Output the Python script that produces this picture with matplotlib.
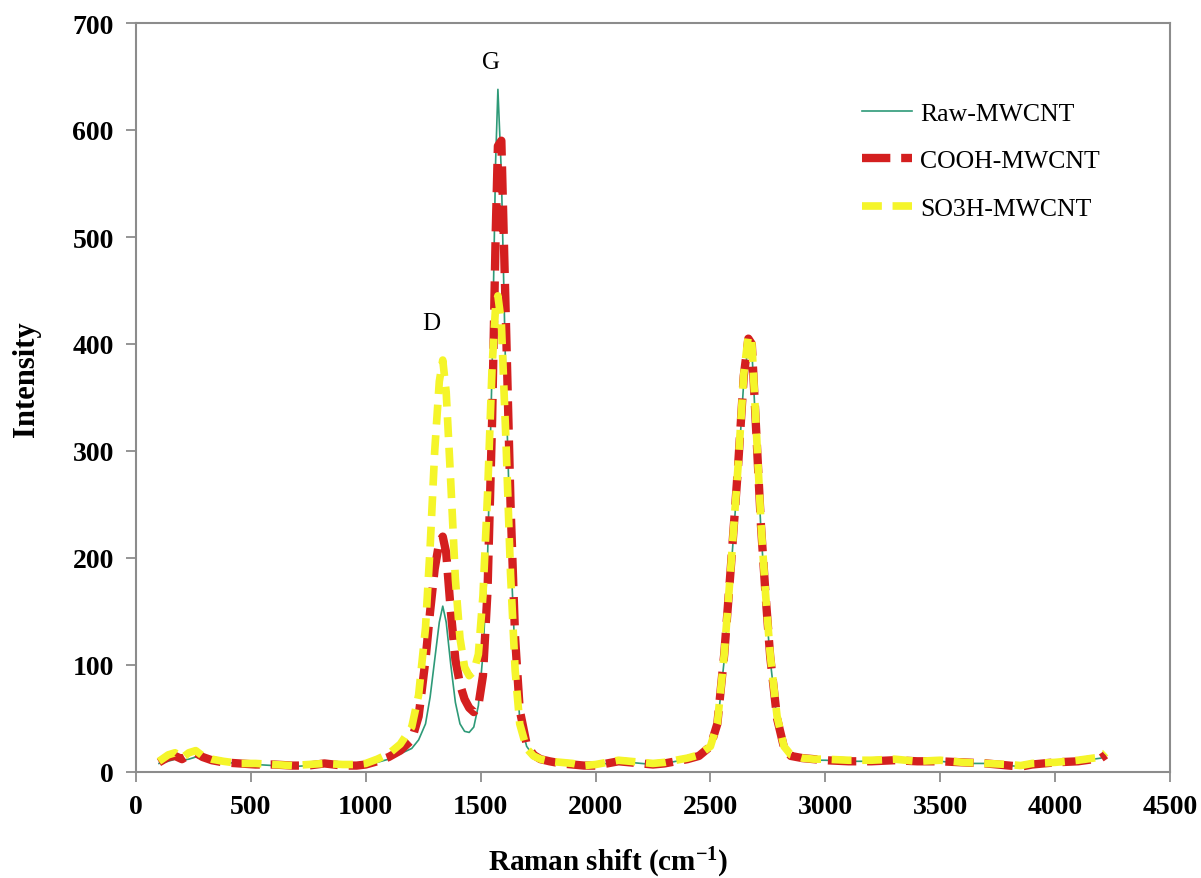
import matplotlib
matplotlib.use("Agg")
import matplotlib.pyplot as plt

# ---- data ----
x_raw = [100, 140, 170, 200, 230, 260, 290, 330, 380, 450, 520, 600, 680, 750, 820, 900, 960, 1000,
         1050, 1100, 1150, 1200, 1230, 1260, 1280, 1300, 1320, 1335, 1350, 1370, 1390, 1410, 1430,
         1450, 1470, 1490, 1510, 1530, 1550, 1565, 1575, 1590, 1610, 1630, 1650, 1670, 1700, 1730,
         1760, 1800, 1850, 1900, 1950, 2000, 2050, 2100, 2150, 2200, 2250, 2300, 2350, 2400, 2450,
         2500, 2530, 2560, 2590, 2620, 2645, 2665, 2680, 2700, 2720, 2740, 2760, 2790, 2820, 2850,
         2900, 2950, 3000, 3100, 3200, 3300, 3400, 3500, 3600, 3700, 3800, 3850, 3900, 4000, 4100,
         4200, 4220]
y_raw = [8, 10, 12, 11, 12, 14, 12, 10, 9, 8, 7, 6, 5, 6, 7, 6, 6, 7,
         9, 12, 17, 22, 30, 45, 70, 105, 140, 155, 140, 100, 65, 45, 38,
         37, 42, 62, 110, 200, 380, 570, 638, 560, 360, 210, 105, 50, 24, 15,
         11, 9, 8, 7, 6, 6, 8, 10, 9, 8, 7, 8, 10, 12, 15,
         22, 42, 105, 190, 280, 365, 400, 395, 310, 225, 160, 105, 48, 22, 15,
         12, 11, 11, 10, 10, 11, 9, 10, 8, 8, 6, 5, 7, 8, 10,
         13, 16]

x_cooh = x_raw
y_cooh = [9, 14, 15, 12, 16, 18, 14, 11, 9, 8, 7, 7, 6, 6, 8, 6, 6, 7,
          10, 14, 20, 30, 52, 105, 150, 190, 215, 220, 205, 150, 105, 82, 68,
          60, 56, 62, 90, 170, 330, 500, 585, 590, 420, 250, 125, 58, 26, 16,
          12, 10, 8, 7, 6, 6, 8, 10, 9, 8, 7, 8, 10, 12, 15,
          24, 45, 110, 195, 285, 370, 405, 400, 315, 230, 165, 108, 50, 23, 15,
          13, 12, 11, 10, 10, 11, 10, 10, 9, 8, 6, 5, 7, 9, 10,
          13, 16]

x_so3h = x_raw
y_so3h = [10, 16, 18, 13, 18, 20, 15, 12, 10, 8, 8, 7, 6, 7, 8, 7, 7, 8,
          12, 17, 26, 42, 72, 135, 210, 300, 365, 385, 355, 270, 180, 125, 98,
          90, 94, 110, 165, 260, 380, 435, 445, 420, 310, 185, 95, 45, 22, 15,
          12, 10, 9, 8, 6, 7, 9, 11, 10, 9, 8, 9, 11, 13, 16,
          24, 45, 110, 195, 285, 372, 408, 402, 318, 232, 166, 110, 52, 24, 16,
          13, 12, 12, 11, 11, 12, 10, 11, 9, 8, 7, 6, 8, 9, 11,
          14, 18]

labels = ["Raw-MWCNT", "COOH-MWCNT", "SO3H-MWCNT"]
xticks = [0, 500, 1000, 1500, 2000, 2500, 3000, 3500, 4000, 4500]
yticks = [0, 100, 200, 300, 400, 500, 600, 700]

plt.rcParams['font.family'] = ['Liberation Serif', 'DejaVu Serif']
plt.rcParams['mathtext.fontset'] = 'custom'
plt.rcParams['mathtext.rm'] = 'Liberation Serif:bold'
plt.rcParams['mathtext.bf'] = 'Liberation Serif:bold'
plt.rcParams['mathtext.default'] = 'bf'

fig = plt.figure(figsize=(12.01, 8.79), dpi=100)
ax = fig.add_axes([136/1201, 1-773/879, (1170-136)/1201, (773-24)/879])

ax.plot(x_raw, y_raw, color="#2e9a78", lw=1.2, label=labels[0], zorder=2)
ax.plot(x_cooh, y_cooh, color="#d41f1f", lw=6, linestyle=(0, (3.4, 1.3)),
        label=labels[1], zorder=3)
ax.plot(x_so3h, y_so3h, color="#f5f52a", lw=5.5, linestyle=(0, (2.6, 1.4)),
        label=labels[2], zorder=4)

ax.set_xlim(0, 4500)
ax.set_ylim(0, 700)
ax.set_xticks(xticks)
ax.set_yticks(yticks)
for s in ax.spines.values():
    s.set_color("#8c8c8c")
    s.set_linewidth(1.5)
ax.tick_params(axis='both', direction='out', length=7, width=1.3, color="#8c8c8c",
               labelsize=20, pad=9)
for t in ax.get_xticklabels() + ax.get_yticklabels():
    t.set_fontweight('bold')

ax.set_xlabel("Raman shift (cm$^{-1}$)", fontsize=21, fontweight='bold')
ax.xaxis.set_label_coords((608-136)/1034, -(846-773)/749, transform=ax.transAxes)
ax.set_ylabel("Intensity", fontsize=22, fontweight='bold', va='center', ha='center')
ax.yaxis.set_label_coords(-(136-26)/1034, (773-379)/749, transform=ax.transAxes)

ax.text(1286, 420, "D", fontsize=18, ha='center', va='center')
ax.text(1546, 664, "G", fontsize=18, ha='center', va='center')

leg = ax.legend(loc='upper left', bbox_to_anchor=(862/1201, 1-103/879),
                bbox_transform=fig.transFigure, frameon=False, borderpad=0,
                borderaxespad=0, fontsize=18.5, handlelength=1.95,
                labelspacing=0.95, handletextpad=0.3)

fig.savefig("out.png", dpi=100)
